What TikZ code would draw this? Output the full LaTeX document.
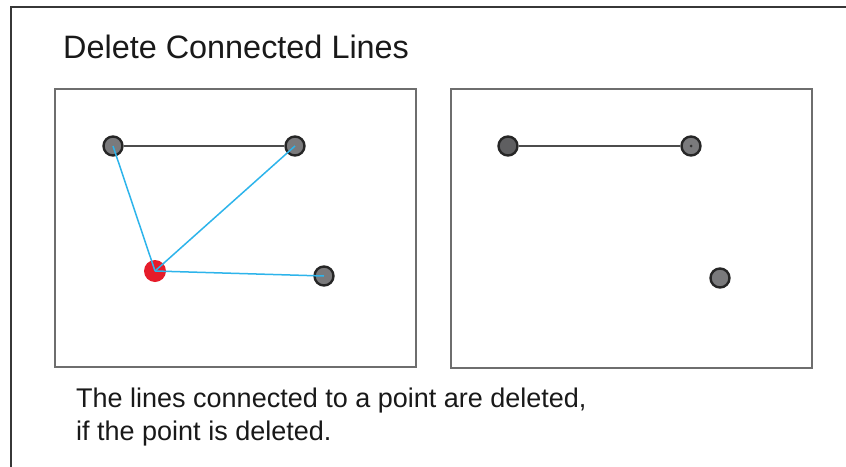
\documentclass[tikz,border=0pt]{standalone}
\usepackage{fontspec}
\setmainfont{Liberation Sans}
\definecolor{ptgray}{RGB}{122,122,124}
\definecolor{ptdark}{RGB}{95,95,97}
\definecolor{lncyan}{RGB}{45,180,235}
\definecolor{ptred}{RGB}{230,28,42}
\definecolor{panelgray}{RGB}{110,110,110}
\definecolor{framegray}{RGB}{55,55,55}
\definecolor{txtgray}{RGB}{25,25,25}
\begin{document}
\begin{tikzpicture}[x=1pt,y=-1pt,
  framestyle/.style={draw=framegray, line width=1.8pt},
  panelbox/.style={draw=panelgray, line width=1.6pt},
  pointnode/.style={circle, draw=black!85, line width=2.4pt, fill=ptgray, minimum size=19pt, inner sep=0pt},
  rednode/.style={circle, fill=ptred, minimum size=22pt, inner sep=0pt},
  blackline/.style={draw=black!70, line width=1.5pt},
  cyanline/.style={draw=lncyan, line width=1.5pt},
  label/.style={inner sep=0pt, anchor=base west, text=txtgray}]
\useasboundingbox (0,0) rectangle (846,466);
\fill[white] (0,0) rectangle (846,466);
% outer frame (cropped at right and bottom)
\draw[framestyle] (11,470) -- (11,7) -- (850,7);
% title
\node[label, font=\fontsize{32.4}{36}\selectfont] (title) at (63,58) {Delete Connected Lines};
% panels
\draw[panelbox] (55,89) rectangle (416,367);
\draw[panelbox] (451,89) rectangle (812,368);
% left panel points
\node[pointnode] (p1) at (113,146) {};
\node[pointnode] (p2) at (295,146) {};
\node[pointnode] (p4) at (324,276) {};
\node[rednode] (r) at (155,271) {};
\draw[blackline] (p1) -- (p2);
\draw[cyanline] (p1.center) -- (r.center);
\draw[cyanline] (p2.center) -- (r.center);
\draw[cyanline] (r.center) -- (p4.center);
% right panel points
\node[pointnode, fill=ptdark] (q1) at (508,146) {};
\node[pointnode] (q2) at (691,146) {};
\node[pointnode] (q3) at (720,278) {};
\draw[blackline] (q1) -- (q2);
\fill[black!80] (q2.center) circle (1.5pt);
% caption
\node[label, font=\fontsize{27}{33}\selectfont] (cap1) at (76,407) {The lines connected to a point are deleted,};
\node[label, font=\fontsize{27}{33}\selectfont] (cap2) at (76,440) {if the point is deleted.};
\end{tikzpicture}
\end{document}
